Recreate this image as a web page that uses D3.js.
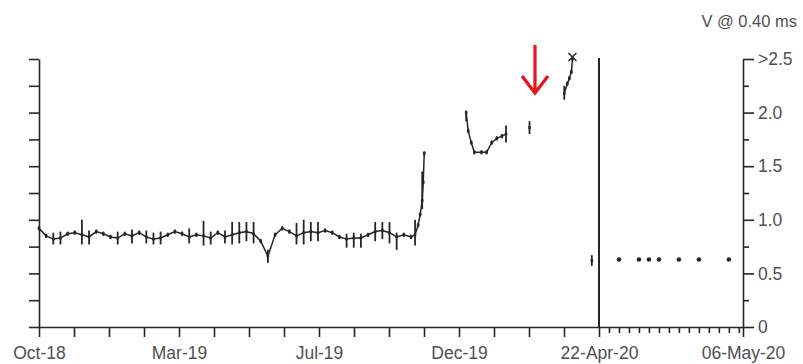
<!DOCTYPE html>
<html><head><meta charset="utf-8">
<script src="https://cdn.jsdelivr.net/npm/d3@7"></script>
<style>
body{margin:0;background:#fff}
svg{display:block}
text{font-family:"Liberation Sans",Arial,sans-serif;fill:#505050}
</style></head><body>
<svg id="c" width="803" height="364"></svg>
<script>
// ---- data ----
const title = "V @ 0.40 ms";
const yTickValues = [0, 0.5, 1.0, 1.5, 2.0, 2.5];
const yTickLabels = ["0", "0.5", "1.0", "1.5", "2.0", ">2.5"];
const yMinorValues = [0.25, 0.75, 1.25, 1.75, 2.25];
const xLabelsLeft = ["Oct-18", "Mar-19", "Jul-19", "Dec-19", "22-Apr-20"];
const xLabelRight = "06-May-20";

// weekly readings, Oct-2018 .. Oct-2019
const weeklyStart = "2018-10-22";
const weeklyValues = [0.92,0.85,0.82,0.83,0.87,0.88,0.86,0.84,0.89,0.87,0.84,0.83,0.87,0.85,0.88,0.84,0.82,0.83,0.86,0.89,0.87,0.84,0.86,0.85,0.83,0.88,0.84,0.86,0.88,0.89,0.87,0.80,0.66,0.86,0.92,0.89,0.85,0.88,0.89,0.88,0.90,0.88,0.84,0.82,0.83,0.83,0.86,0.89,0.90,0.88,0.84,0.86,0.84];
const weeklyLow    = [0.90,0.83,0.77,0.77,0.85,0.86,0.77,0.77,0.87,0.85,0.82,0.77,0.85,0.78,0.86,0.78,0.77,0.77,0.84,0.87,0.85,0.78,0.84,0.76,0.77,0.86,0.78,0.77,0.78,0.80,0.78,0.78,0.60,0.84,0.90,0.87,0.77,0.77,0.80,0.80,0.88,0.86,0.82,0.74,0.74,0.74,0.84,0.80,0.82,0.78,0.72,0.84,0.82];
const weeklyHigh   = [0.94,0.87,0.88,0.89,0.89,0.90,1.00,0.90,0.91,0.89,0.86,0.89,0.89,0.91,0.90,0.90,0.88,0.89,0.88,0.91,0.89,0.92,0.88,0.99,0.89,0.90,0.90,0.98,0.98,0.98,0.98,0.82,0.72,0.88,0.94,0.91,0.97,1.00,0.98,0.98,0.92,0.90,0.86,0.87,0.88,0.87,0.88,0.98,0.98,0.98,0.88,0.88,0.86];

// rise at the end of Oct-2019
const riseDates  = ["2019-10-25","2019-10-28","2019-10-30","2019-11-01","2019-11-02","2019-11-03"];
const riseValues = [0.86, 0.95, 1.05, 1.18, 1.35, 1.62];
const riseLow    = [0.76, 0.93, 1.03, 1.10, 1.33, 1.60];
const riseHigh   = [1.00, 0.97, 1.07, 1.45, 1.37, 1.64];

// Dec-2019 .. Jan-2020
const winterDates  = ["2019-12-14","2019-12-16","2019-12-19","2019-12-22","2019-12-29","2020-01-03","2020-01-08","2020-01-13","2020-01-18","2020-01-22"];
const winterValues = [2.0, 1.83, 1.72, 1.63, 1.63, 1.63, 1.72, 1.76, 1.78, 1.80];
const winterLow    = [1.92, 1.81, 1.70, 1.61, 1.61, 1.61, 1.70, 1.74, 1.76, 1.72];
const winterHigh   = [2.02, 1.85, 1.74, 1.65, 1.65, 1.65, 1.74, 1.78, 1.80, 1.88];

// single reading Feb-2020
const febDates = ["2020-02-14"];
const febValues = [1.86];
const febLow = [1.80];
const febHigh = [1.92];

// Mar-2020 (last reading off scale, >2.5)
const marDates  = ["2020-03-19","2020-03-22","2020-03-24","2020-03-26","2020-03-27"];
const marValues = [2.18, 2.27, 2.32, 2.38, 2.5];
const marLow    = [2.12, 2.25, 2.30, 2.36, 2.5];
const marHigh   = [2.25, 2.29, 2.34, 2.40, 2.5];
const offScaleDate = "2020-03-27";

// April reading
const aprDates = ["2020-04-15"];
const aprValues = [0.62];
const aprLow = [0.57];
const aprHigh = [0.67];

// daily readings after 22-Apr-2020
const dailyDates  = ["2020-04-24","2020-04-26","2020-04-27","2020-04-28","2020-04-30","2020-05-02","2020-05-05"];
const dailyValues = [0.63, 0.63, 0.63, 0.63, 0.63, 0.63, 0.63];

// ---- drawing ----
const parse = d3.timeParse("%Y-%m-%d");
const svg = d3.select("#c");
const ink = "#262626";

const leftStart = parse("2018-10-22"), split = parse("2020-04-22"), rightEnd = parse("2020-05-06");
const rightEdge = d3.timeHour.offset(rightEnd, 10);
const xL = d3.scaleTime().domain([leftStart, split]).range([39, 599]);
const xR = d3.scaleTime().domain([split, rightEdge]).range([599, 743]);
const y = d3.scaleLinear().domain([0, 2.5]).range([327, 59]);

// left axis
svg.append("g").attr("transform", "translate(39,0)")
  .call(d3.axisLeft(y).tickValues(d3.range(0, 2.51, 0.25)).tickSize(10).tickSizeOuter(0).tickFormat(""));
// right axis major + minor
svg.append("g").attr("transform", "translate(743,0)")
  .call(d3.axisRight(y).tickValues(yTickValues).tickSize(11).tickSizeOuter(0).tickPadding(4)
    .tickFormat((d, i) => yTickLabels[i]));
svg.append("g").attr("transform", "translate(743,0)")
  .call(d3.axisRight(y).tickValues(yMinorValues).tickSize(6).tickSizeOuter(0).tickFormat(""))
  .select(".domain").remove();

// bottom axes
const leftTicks = d3.range(17).map(i => new Date(+leftStart + (split - leftStart) * i / 16));
svg.append("g").attr("transform", "translate(0,327)")
  .call(d3.axisBottom(xL).tickValues(leftTicks).tickSize(10).tickSizeOuter(0).tickPadding(10)
    .tickFormat((d, i) => i % 4 === 0 ? xLabelsLeft[i / 4] : ""));
const dayTicks = d3.timeDay.range(d3.timeDay.offset(split, 1), d3.timeDay.offset(rightEnd, 1));
svg.append("g").attr("transform", "translate(0,327)")
  .call(d3.axisBottom(xR).tickValues(dayTicks).tickSize(6).tickSizeOuter(0).tickFormat(""));
svg.append("g").attr("transform", "translate(0,327)")
  .call(d3.axisBottom(xR).tickValues([rightEdge]).tickSize(10).tickSizeOuter(0).tickPadding(10)
    .tickFormat(() => xLabelRight)).select(".domain").remove();

svg.selectAll(".domain, .tick line").attr("stroke", ink).attr("stroke-width", 1.6);
svg.selectAll(".tick text").attr("font-size", 17.5).attr("fill", "#4a4a4a");

// separator at 22-Apr-20
svg.append("line").attr("x1", xL(split)).attr("x2", xL(split))
  .attr("y1", y(2.5) - 1).attr("y2", y(0)).attr("stroke", ink).attr("stroke-width", 2);

// series
function drawSeries(dates, vals, lows, highs, xs) {
  const pts = dates.map((d, i) => ({x: xs(d), v: vals[i], lo: lows[i], hi: highs[i]}));
  svg.append("path").datum(pts)
    .attr("fill", "none").attr("stroke", ink).attr("stroke-width", 1.5)
    .attr("d", d3.line().x(p => p.x).y(p => y(p.v)));
  svg.append("g").selectAll("line").data(pts).join("line")
    .attr("x1", p => p.x).attr("x2", p => p.x)
    .attr("y1", p => y(p.lo)).attr("y2", p => y(p.hi))
    .attr("stroke", ink).attr("stroke-width", 1.8);
  svg.append("g").selectAll("rect").data(pts).join("rect")
    .attr("x", p => p.x - 1.3).attr("y", p => y(p.v) - 1.3).attr("width", 2.6).attr("height", 2.6)
    .attr("fill", ink);
}
const weeklyDates = weeklyValues.map((v, i) => d3.timeDay.offset(parse(weeklyStart), 7 * i));
drawSeries(weeklyDates.concat(riseDates.map(parse)), weeklyValues.concat(riseValues),
  weeklyLow.concat(riseLow), weeklyHigh.concat(riseHigh), xL);
drawSeries(winterDates.map(parse), winterValues, winterLow, winterHigh, xL);
drawSeries(febDates.map(parse), febValues, febLow, febHigh, xL);
drawSeries(marDates.map(parse), marValues, marLow, marHigh, xL);
drawSeries(aprDates.map(parse), aprValues, aprLow, aprHigh, xL);

// off-scale marker
const ox = xL(parse(offScaleDate)), oy = y(2.5) - 2;
svg.append("path").attr("d", `M${ox-4},${oy-4}L${ox+4},${oy+4}M${ox-4},${oy+4}L${ox+4},${oy-4}`)
  .attr("stroke", ink).attr("stroke-width", 1.5);

// daily dots
svg.append("g").selectAll("circle").data(dailyDates).join("circle")
  .attr("cx", (d) => xR(parse(d))).attr("cy", (d, i) => y(dailyValues[i])).attr("r", 2.3)
  .attr("fill", ink);

// title
svg.append("text").attr("x", 797).attr("y", 27).attr("text-anchor", "end")
  .attr("font-size", 16.5).attr("fill", "#404040").text(title);

// red arrow annotation
const ax = 535;
svg.append("path").attr("d", `M${ax},45L${ax},92M${ax-13},76L${ax},93L${ax+13},76`)
  .attr("fill", "none").attr("stroke", "#e8141c").attr("stroke-width", 3.2)
  .attr("stroke-linecap", "butt").attr("stroke-linejoin", "miter");
</script></body></html>
